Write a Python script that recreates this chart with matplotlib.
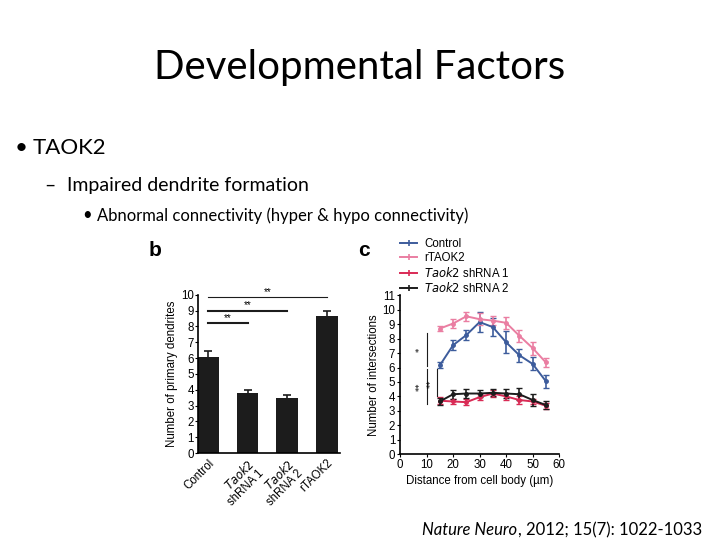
import matplotlib.pyplot as plt
import numpy as np
from matplotlib.lines import Line2D

# panel b: bar chart
bar_labels = ['Control', '$\\it{Taok2}$\nshRNA 1', '$\\it{Taok2}$\nshRNA 2', 'rTAOK2']
bar_values = [6.1, 3.8, 3.45, 8.65]
bar_errors = [0.35, 0.2, 0.2, 0.35]
# (start index, end index, height)
bar_sig = [(0, 3, 9.85), (0, 2, 9.0), (0, 1, 8.2)]

# panel c: Sholl analysis
distance = [15, 20, 25, 30, 35, 40, 45, 50, 55]
control = [6.15, 7.55, 8.25, 9.15, 8.8, 7.75, 6.85, 6.25, 5.05]
control_err = [0.2, 0.35, 0.35, 0.7, 0.6, 0.75, 0.45, 0.45, 0.45]
rtaok2 = [8.7, 9.05, 9.55, 9.35, 9.25, 9.1, 8.2, 7.35, 6.35]
rtaok2_err = [0.2, 0.3, 0.3, 0.4, 0.3, 0.4, 0.4, 0.45, 0.3]
shrna1 = [3.7, 3.65, 3.6, 3.95, 4.2, 4.0, 3.75, 3.65, 3.35]
shrna1_err = [0.25, 0.2, 0.2, 0.2, 0.25, 0.25, 0.25, 0.2, 0.2]
shrna2 = [3.65, 4.15, 4.2, 4.2, 4.25, 4.2, 4.15, 3.75, 3.4]
shrna2_err = [0.25, 0.3, 0.3, 0.25, 0.25, 0.3, 0.4, 0.4, 0.25]

fig = plt.figure(figsize=(7.2, 5.4), dpi=100)
slide_font = 'Lato'
panel_font = 'Liberation Sans'
fs = 8.3

# slide text
fig.text(0.5, 0.875, 'Developmental Factors', ha='center', va='center',
         fontsize=29, family=slide_font)
fig.text(0.021, 0.726, '\u2022', ha='left', va='center', fontsize=16, family=slide_font)
fig.text(0.046, 0.726, 'TAOK2', ha='left', va='center', fontsize=16, family=slide_font)
fig.text(0.061, 0.657, '\u2013', ha='left', va='center', fontsize=14, family=slide_font)
fig.text(0.093, 0.657, 'Impaired dendrite formation', ha='left', va='center',
         fontsize=14, family=slide_font)
fig.text(0.114, 0.601, '\u2022', ha='left', va='center', fontsize=12, family=slide_font)
fig.text(0.135, 0.601, 'Abnormal connectivity (hyper & hypo connectivity)', ha='left',
         va='center', fontsize=12, family=slide_font)

# citation: italic journal name followed by plain text
cite = fig.text(0.586, 0.018, 'Nature Neuro', ha='left', va='center', fontsize=12,
                family=slide_font, style='italic')
renderer = fig.canvas.get_renderer()
bb = cite.get_window_extent(renderer).transformed(fig.transFigure.inverted())
fig.text(bb.x1 + 0.001, 0.018, ', 2012; 15(7): 1022-1033', ha='left', va='center',
         fontsize=12, family=slide_font)

# panel b
ax1 = fig.add_axes([0.275, 0.161, 0.197, 0.293])
x = np.arange(len(bar_values))
ax1.bar(x, bar_values, width=0.55, color='#1c1c1c', yerr=bar_errors,
        error_kw=dict(ecolor='#1c1c1c', capsize=3, elinewidth=1.2, capthick=1.2))
ax1.set_xlim(-0.25, 3.33)
ax1.set_ylim(0, 10)
ax1.set_yticks(range(11))
ax1.set_xticks(x)
ax1.set_xticklabels(bar_labels, rotation=45, ha='right', rotation_mode='anchor',
                    fontsize=fs, family=panel_font, linespacing=1.0)
ax1.tick_params(axis='y', labelsize=fs, length=2, pad=1)
ax1.tick_params(axis='x', length=0, pad=3)
for lbl in ax1.get_yticklabels():
    lbl.set_family(panel_font)
ax1.set_ylabel('Number of primary dendrites', fontsize=fs, family=panel_font, labelpad=2)
ax1.spines['top'].set_visible(False)
ax1.spines['right'].set_visible(False)
ax1.spines['left'].set_linewidth(1.2)
ax1.spines['bottom'].set_linewidth(1.2)
for i, (a, b, h) in enumerate(bar_sig):
    lw = 0.8 if i == 0 else 1.5
    ax1.plot([a, b], [h, h], color='#1c1c1c', lw=lw, clip_on=False)
    ax1.text((a + b) / 2, h + 0.02, '**', ha='center', va='bottom', fontsize=7,
             family=panel_font)
fig.text(0.207, 0.525, 'b', fontsize=15, family=panel_font, fontweight='bold')

# panel c
ax2 = fig.add_axes([0.5556, 0.159, 0.221, 0.294])
series = [
    ('Control', control, control_err, '#3d5c9c'),
    ('rTAOK2', rtaok2, rtaok2_err, '#ea7ea2'),
    ('$\\it{Taok2}$ shRNA 1', shrna1, shrna1_err, '#d92a55'),
    ('$\\it{Taok2}$ shRNA 2', shrna2, shrna2_err, '#1c1c1c'),
]
handles = []
for label, vals, errs, col in series:
    ax2.errorbar(distance, vals, yerr=errs, color=col, marker='o', markersize=2.5,
                 lw=1.4, capsize=2.5, elinewidth=1.2, capthick=1.0)
    handles.append(Line2D([], [], color=col, lw=1.4, marker='|', markersize=4,
                          markeredgewidth=1.2, label=label))
ax2.set_xlim(0, 60)
ax2.set_ylim(0, 11)
ax2.set_xticks(range(0, 61, 10))
ax2.set_yticks(range(12))
ax2.tick_params(labelsize=fs, length=2, pad=1.5)
for lbl in ax2.get_xticklabels() + ax2.get_yticklabels():
    lbl.set_family(panel_font)
ax2.set_xlabel('Distance from cell body (\u00b5m)', fontsize=fs, family=panel_font, labelpad=3)
ax2.set_ylabel('Number of intersections', fontsize=fs, family=panel_font, labelpad=2)
ax2.spines['top'].set_visible(False)
ax2.spines['right'].set_visible(False)
ax2.spines['left'].set_linewidth(1.2)
ax2.spines['bottom'].set_linewidth(1.2)

# significance brackets
ax2.plot([10, 10], [6.1, 8.4], color='#1c1c1c', lw=0.8)
ax2.plot([10, 10], [3.5, 5.9], color='#1c1c1c', lw=0.8)
ax2.plot([14, 14], [4.0, 5.9], color='#1c1c1c', lw=0.8)
ax2.text(7.8, 7.25, '*', rotation=90, ha='center', va='center', fontsize=6)
ax2.text(7.8, 4.7, '**', rotation=90, ha='center', va='center', fontsize=6)
ax2.text(11.9, 4.9, '**', rotation=90, ha='center', va='center', fontsize=6)

leg = ax2.legend(handles=handles, loc='lower left', bbox_to_anchor=(0.0, 1.0),
                 frameon=False, fontsize=fs, handlelength=1.5, handletextpad=0.6,
                 labelspacing=0.15, borderaxespad=0.0, borderpad=0.0)
for t in leg.get_texts():
    t.set_family(panel_font)
fig.text(0.497, 0.525, 'c', fontsize=15, family=panel_font, fontweight='bold')

fig.savefig('out.png', dpi=100, facecolor='white')
